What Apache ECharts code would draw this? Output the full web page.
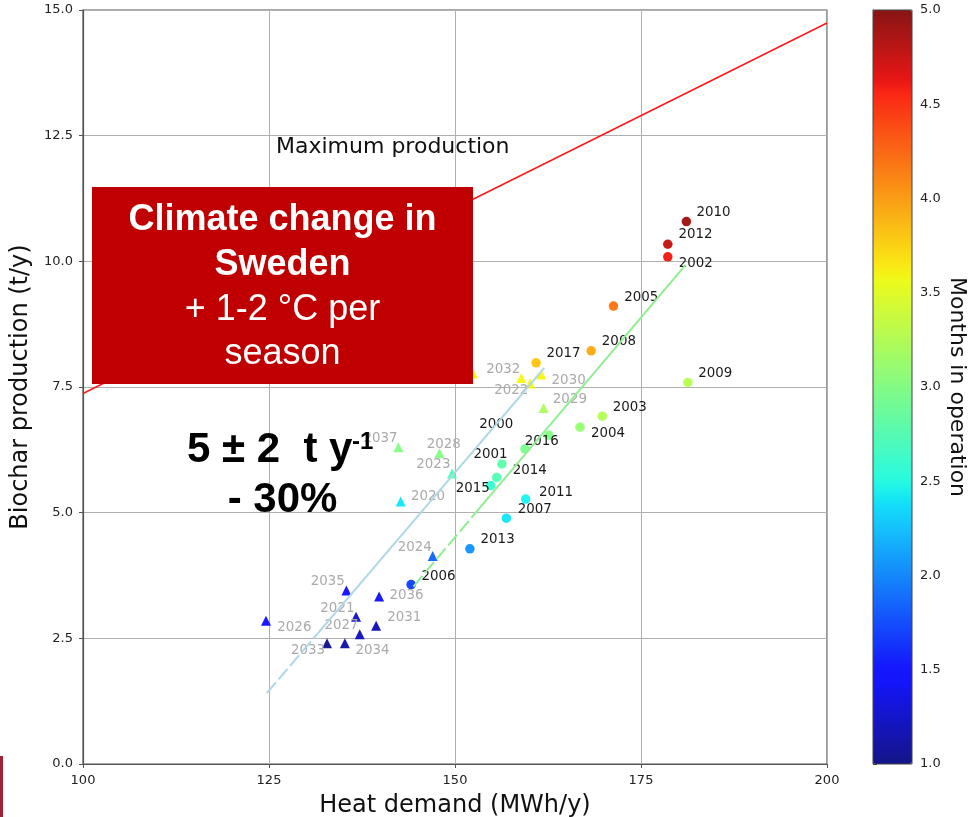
<!DOCTYPE html>
<html><head><meta charset="utf-8">
<script src="https://cdn.jsdelivr.net/npm/echarts@6/dist/echarts.min.js"></script>
<style>html,body{margin:0;padding:0;background:#fff}#c{width:969px;height:817px}</style>
</head><body><div id="c"></div>
<script>
// ---------- data ----------
const xTicks = [100, 125, 150, 175, 200];
const yTicks = [0, 2.5, 5, 7.5, 10, 12.5, 15];
const cbTicks = [1, 1.5, 2, 2.5, 3, 3.5, 4, 4.5, 5];

// measured years (circles)
const histYears   = [2000, 2001, 2002, 2003, 2004, 2005, 2006, 2007, 2008, 2009, 2010, 2011, 2012, 2013, 2014, 2015, 2016, 2017];
const histHeat    = [159.4, 156.3, 178.6, 169.8, 166.8, 171.3, 144.1, 156.9, 168.3, 181.3, 181.1, 159.5, 178.6, 152.0, 155.6, 154.8, 162.6, 160.9];
const histBiochar = [6.27, 5.97, 10.09, 6.92, 6.70, 9.11, 3.57, 4.89, 8.22, 7.59, 10.79, 5.27, 10.34, 4.28, 5.70, 5.54, 6.54, 7.98];
const histMonths  = [2.95, 2.8, 4.6, 3.25, 3.1, 4.2, 1.7, 2.4, 3.95, 3.27, 4.9, 2.45, 4.77, 2.05, 2.75, 2.6, 3.0, 3.82];

// projected years (triangles)
const futYears   = [2020, 2021, 2022, 2023, 2024, 2025, 2026, 2027, 2028, 2029, 2030, 2031, 2032, 2033, 2034, 2035, 2036, 2037];
const futHeat    = [142.7, 136.7, 160.1, 149.6, 147.0, 152.4, 124.6, 137.2, 147.9, 161.9, 161.6, 139.4, 158.9, 132.8, 135.2, 135.4, 139.8, 142.4];
const futBiochar = [5.22, 2.93, 7.57, 5.78, 4.14, 7.77, 2.85, 2.58, 6.18, 7.08, 7.75, 2.75, 7.68, 2.40, 2.40, 3.45, 3.33, 6.30];
const futMonths  = [2.4, 1.26, 3.6, 2.75, 1.85, 3.6, 1.48, 1.2, 3.0, 3.2, 3.6, 1.18, 3.6, 1.04, 1.1, 1.45, 1.45, 3.0];

// lines
const maxLineX = [100, 200];
const maxLineY = [7.37, 14.74];
const futFitX = [124.7, 131.5, 162.0];
const futFitY = [1.41, 2.59, 7.88];
const histFitX = [144.4, 152.5, 181.0];
const histFitY = [3.53, 4.95, 9.93];

// ---------- styling (label placement, pixels) ----------
const labelOffsets = {
  2000:[-45.7,-24], 2001:[-28.4,-9], 2002:[11,7], 2003:[10.4,-8.7], 2004:[11,6.7], 2005:[10.7,-8.7],
  2006:[10.4,-8.3], 2007:[11.3,-9], 2008:[10.7,-9], 2009:[10.3,-9], 2010:[10,-9], 2011:[13.3,-6.7],
  2012:[10.6,-9.7], 2013:[10.7,-9], 2014:[16,-6.6], 2015:[-35,2.6], 2016:[-24,6.7], 2017:[10.4,-9.7],
  2020:[10.3,-5], 2021:[-35.7,-8.4], 2022:[-36,7.4], 2023:[-35.7,-9.3], 2024:[-35,-8.7], 2025:[-35,-9],
  2026:[11.3,7], 2027:[-35.3,-8.3], 2028:[-12.6,-9.3], 2029:[9.3,-9], 2030:[10.3,6.4], 2031:[11,-8.4],
  2032:[-35,-8.7], 2033:[-36,6.7], 2034:[10.6,6.7], 2035:[-35.6,-9.4], 2036:[10.3,-1.4], 2037:[-35,-9]
};

// jet colormap (alpha 0.9)
function jet(t){
  const r = t < 0.35 ? 0 : t < 0.66 ? (t-0.35)/0.31 : t < 0.89 ? 1 : 1 - 0.5*(t-0.89)/0.11;
  const g = t < 0.125 ? 0 : t < 0.375 ? (t-0.125)/0.25 : t < 0.64 ? 1 : t < 0.91 ? 1-(t-0.64)/0.27 : 0;
  const b = t < 0.11 ? 0.5 + 0.5*t/0.11 : t < 0.34 ? 1 : t < 0.65 ? 1-(t-0.34)/0.31 : 0;
  const c = v => Math.round(Math.max(0, Math.min(1, v))*255);
  return 'rgba(' + c(r) + ',' + c(g) + ',' + c(b) + ',0.9)';
}
const jetColors = [];
for (let i = 0; i <= 100; i++) jetColors.push(jet(i/100));

const FONT = "'DejaVu Sans', sans-serif";
const ARIAL = "'Liberation Sans', Arial, sans-serif";

function pts(xs, ys, ms, yrs){
  return xs.map((x, i) => ({
    value: [x, ys[i], ms[i], yrs[i]],
    label: { offset: labelOffsets[yrs[i]] }
  }));
}
function line(xs, ys, a, b){
  const out = [];
  for (let i = a; i <= b; i++) out.push([xs[i], ys[i]]);
  return out;
}

const scatterLabel = (color) => ({
  show: true, position: 'inside', align: 'left', verticalAlign: 'middle',
  formatter: p => String(p.value[3]), color: color, fontFamily: FONT, fontSize: 13.4,
  textBorderWidth: 0
});

const chart = echarts.init(document.getElementById('c'), null, {renderer: 'canvas'});
chart.setOption({
  animation: false,
  backgroundColor: '#ffffff',
  grid: [
    {left: 83, top: 10, width: 744, height: 754, show: true, borderColor: '#555', borderWidth: 1.2,
     backgroundColor: 'transparent', containLabel: false, outerBoundsMode: 'none'},
    {left: 873, top: 10, width: 39, height: 754, containLabel: false, outerBoundsMode: 'none'}
  ],
  xAxis: [{
    type: 'value', gridIndex: 0, min: xTicks[0], max: xTicks[xTicks.length-1], interval: 25,
    name: 'Heat demand (MWh/y)', nameLocation: 'middle', nameGap: 30,
    nameTextStyle: {fontFamily: FONT, fontSize: 24, color: '#111'},
    axisLine: {show: true, lineStyle: {color: '#555', width: 1.2}},
    axisTick: {show: true, length: 4, lineStyle: {color: '#555'}},
    axisLabel: {margin: 10, fontFamily: FONT, fontSize: 13, color: '#222'},
    splitLine: {show: true, lineStyle: {color: '#b0b0b0', width: 1}}
  }, {
    type: 'value', gridIndex: 1, show: false, min: 0, max: 1
  }],
  yAxis: [{
    type: 'value', gridIndex: 0, min: yTicks[0], max: yTicks[yTicks.length-1], interval: 2.5,
    name: 'Biochar production (t/y)', nameLocation: 'middle', nameGap: 49,
    nameTextStyle: {fontFamily: FONT, fontSize: 24, color: '#111'},
    axisLine: {show: true, lineStyle: {color: '#555', width: 1.2}},
    axisTick: {show: true, length: 4, lineStyle: {color: '#555'}},
    axisLabel: {margin: 10, fontFamily: FONT, fontSize: 13, color: '#222', formatter: v => v.toFixed(1)},
    splitLine: {show: true, lineStyle: {color: '#b0b0b0', width: 1}}
  }, {
    type: 'value', gridIndex: 1, position: 'right', min: cbTicks[0], max: cbTicks[cbTicks.length-1], interval: 0.5,
    name: 'Months in operation', nameLocation: 'middle', nameGap: 34, nameRotate: -90,
    nameTextStyle: {fontFamily: FONT, fontSize: 22, color: '#111'},
    axisLine: {show: true, lineStyle: {color: '#444', width: 1}},
    axisTick: {show: true, length: 4, lineStyle: {color: '#444'}},
    axisLabel: {margin: 8, fontFamily: FONT, fontSize: 13, color: '#222', formatter: v => v.toFixed(1)},
    splitLine: {show: false}
  }],
  visualMap: {
    type: 'continuous', min: 1, max: 5, dimension: 2, seriesIndex: [0, 1],
    orient: 'vertical', left: 873, top: 10, itemWidth: 39, itemHeight: 754,
    calculable: false, padding: 0, hoverLink: false,
    inRange: {color: jetColors}
  },
  series: [{
    type: 'scatter', xAxisIndex: 0, yAxisIndex: 0, symbol: 'circle', symbolSize: 9.5,
    itemStyle: {opacity: 1},
    data: pts(histHeat, histBiochar, histMonths, histYears),
    label: scatterLabel('#1a1a1a'), z: 2
  }, {
    type: 'scatter', xAxisIndex: 0, yAxisIndex: 0, symbol: 'triangle', symbolSize: 10,
    itemStyle: {opacity: 1},
    data: pts(futHeat, futBiochar, futMonths, futYears),
    label: scatterLabel('#aaaaaa'), z: 2
  }, {
    type: 'line', xAxisIndex: 0, yAxisIndex: 0, symbol: 'none', silent: true,
    data: line(maxLineX, maxLineY, 0, 1), lineStyle: {color: '#ff1a1a', width: 1.6}, z: 3
  }, {
    type: 'line', xAxisIndex: 0, yAxisIndex: 0, symbol: 'none', silent: true,
    data: line(futFitX, futFitY, 0, 1), lineStyle: {color: '#add8e6', width: 2, type: [14, 4]}, z: 3
  }, {
    type: 'line', xAxisIndex: 0, yAxisIndex: 0, symbol: 'none', silent: true,
    data: line(futFitX, futFitY, 1, 2), lineStyle: {color: '#add8e6', width: 2}, z: 3
  }, {
    type: 'line', xAxisIndex: 0, yAxisIndex: 0, symbol: 'none', silent: true,
    data: line(histFitX, histFitY, 0, 1), lineStyle: {color: '#90ee90', width: 2, type: [14, 4]}, z: 3
  }, {
    type: 'line', xAxisIndex: 0, yAxisIndex: 0, symbol: 'none', silent: true,
    data: line(histFitX, histFitY, 1, 2), lineStyle: {color: '#90ee90', width: 2}, z: 3
  }],
  graphic: [
    {type: 'text', z: 50, x: 276, y: 147, style: {text: 'Maximum production', font: '22px ' + FONT, fill: '#111', align: 'left', verticalAlign: 'middle'}},
    {type: 'rect', z: 90, shape: {x: 873, y: 10, width: 39, height: 754}, style: {fill: 'none', stroke: '#444', lineWidth: 1}},
    {type: 'rect', z: 100, shape: {x: 92, y: 187, width: 381, height: 197}, style: {fill: '#c00000'}},
    {type: 'text', z: 101, x: 282.5, y: 220, style: {text: 'Climate change in', font: 'bold 36px ' + ARIAL, fill: '#fff', align: 'center', verticalAlign: 'middle'}},
    {type: 'text', z: 101, x: 282.5, y: 265, style: {text: 'Sweden', font: 'bold 36px ' + ARIAL, fill: '#fff', align: 'center', verticalAlign: 'middle'}},
    {type: 'text', z: 101, x: 282.5, y: 310, style: {text: '+ 1-2 °C per', font: '36px ' + ARIAL, fill: '#fff', align: 'center', verticalAlign: 'middle'}},
    {type: 'text', z: 101, x: 282.5, y: 354, style: {text: 'season', font: '36px ' + ARIAL, fill: '#fff', align: 'center', verticalAlign: 'middle'}},
    {type: 'text', z: 101, x: 187, y: 450, style: {text: '5 ± 2  t y', font: 'bold 42px ' + ARIAL, fill: '#000', align: 'left', verticalAlign: 'middle'}},
    {type: 'text', z: 101, x: 352, y: 442, style: {text: '-1', font: 'bold 24px ' + ARIAL, fill: '#000', align: 'left', verticalAlign: 'middle'}},
    {type: 'text', z: 101, x: 282.5, y: 500, style: {text: '- 30%', font: 'bold 42px ' + ARIAL, fill: '#000', align: 'center', verticalAlign: 'middle'}},
    {type: 'rect', z: 100, shape: {x: 0, y: 756, width: 3, height: 61}, style: {fill: '#a31f34'}}
  ]
});
</script></body></html>
